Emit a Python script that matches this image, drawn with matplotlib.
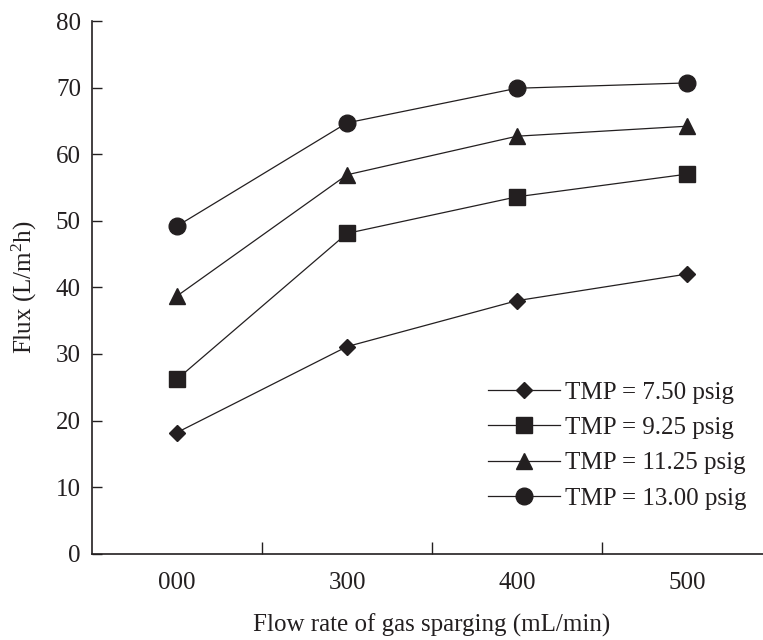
import matplotlib
matplotlib.use("Agg")
import matplotlib.pyplot as plt

plt.rcParams['font.family'] = ['Liberation Serif', 'DejaVu Serif']
plt.rcParams['mathtext.fontset'] = 'custom'
plt.rcParams['mathtext.rm'] = 'Liberation Serif'
plt.rcParams['mathtext.default'] = 'regular'

# gas sparging flow rates (mL/min)
flow_labels = ["000", "300", "400", "500"]

# permeate flux (L/m2h) at each trans-membrane pressure
flux_750 = [18.2, 31.1, 38.0, 42.0]
flux_925 = [26.2, 48.1, 53.6, 57.0]
flux_1125 = [38.7, 56.9, 62.7, 64.2]
flux_1300 = [49.2, 64.7, 69.9, 70.7]

series_labels = ["TMP = 7.50 psig", "TMP = 9.25 psig",
                 "TMP = 11.25 psig", "TMP = 13.00 psig"]

INK = "#231f20"
FS = 18

fig = plt.figure(figsize=(7.63, 6.40), dpi=100)
# axis runs past the right edge of the figure, like the printed original
ax = fig.add_axes([92 / 763, 86.3 / 640, 680 / 763, 532.7 / 640])

x = range(len(flow_labels))
styles = [("D", 8.0), ("s", 11.5), ("^", 12), ("o", 12)]
for ys, lab, (mk, ms) in zip([flux_750, flux_925, flux_1125, flux_1300],
                             series_labels, styles):
    ax.plot(x, ys, color=INK, linewidth=0.9, marker=mk, markersize=ms,
            markerfacecolor=INK, markeredgecolor=INK, label=lab)

ax.set_xlim(-0.5, 3.5)
ax.set_ylim(0, 80)
ax.set_yticks(range(0, 81, 10))
ax.set_xticks([0.5, 1.5, 2.5])
ax.set_xticklabels([])
ax.set_xticks(list(x), minor=True)
ax.set_xticklabels(flow_labels, minor=True)

for side in ("top", "right"):
    ax.spines[side].set_visible(False)
for side in ("left", "bottom"):
    ax.spines[side].set_color(INK)
    ax.spines[side].set_linewidth(1.2)

ax.tick_params(axis="y", direction="in", length=7, width=1, color=INK,
               labelsize=FS, pad=8, labelcolor=INK)
ax.tick_params(axis="x", which="major", direction="in", length=9, width=1,
               color=INK)
ax.tick_params(axis="x", which="minor", length=0, labelsize=FS, pad=13.5,
               labelcolor=INK)

ax.set_ylabel("Flux (L/m$^2$h)", fontsize=FS, color=INK, labelpad=12)
ax.set_xlabel("Flow rate of gas sparging (mL/min)", fontsize=FS, color=INK,
              labelpad=14)

leg = ax.legend(loc="upper left", bbox_to_anchor=(488 / 763, 1 - 381 / 640),
                bbox_transform=fig.transFigure, frameon=False, fontsize=FS,
                handlelength=2.88, handletextpad=0.2, labelspacing=0.52,
                borderpad=0, borderaxespad=0)
for t in leg.get_texts():
    t.set_color(INK)

fig.savefig("out.png", dpi=100)
